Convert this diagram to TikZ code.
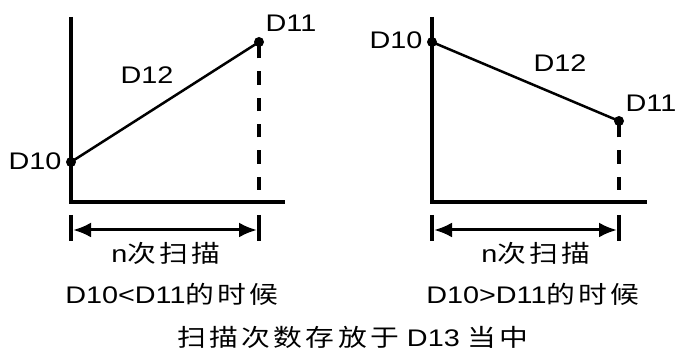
\documentclass[tikz,border=0pt]{standalone}
\usepackage{fontspec}
\setmainfont{Liberation Sans}[FakeStretch=1.2]
\newfontfamily\cjk{Noto Sans CJK SC}[FakeStretch=1.2,LetterSpace=14]
\usetikzlibrary{arrows.meta}
\begin{document}
\begin{tikzpicture}[x=1pt,y=-1pt,
  axis/.style={line width=3.8pt},
  graphline/.style={line width=2.5pt},
  dashline/.style={line width=3.5pt,dash pattern=on 13.3pt off 13pt},
  dimline/.style={line width=3pt,{Latex[length=18pt,width=15pt]}-{Latex[length=18pt,width=15pt]}},
  tickline/.style={line width=3.5pt},
  dot/.style={circle,fill=black,inner sep=0pt,minimum size=10pt},
  lbl/.style={anchor=base,inner sep=0pt,font=\fontsize{24}{27}\selectfont}]
\useasboundingbox (0,0) rectangle (677,352);
% ---------- left panel ----------
\coordinate (LyT) at (71,17);
\coordinate (LO) at (71,202);
\coordinate (LxE) at (285,202);
\coordinate (LdB) at (259,190);
\coordinate (LtA1) at (71,215);
\coordinate (LtA2) at (71,241);
\coordinate (LtB1) at (259,215);
\coordinate (LtB2) at (259,241);
\coordinate (LaA) at (73,230);
\coordinate (LaB) at (257,230);
\draw[axis] (LyT) -- (LO) -- (LxE);
\node[dot] (Lp0) at (71,162) {};
\node[dot] (Lp1) at (259,42) {};
\draw[graphline] (Lp0.center) -- (Lp1.center);
\draw[dashline] (LdB) -- (Lp1.center);
\draw[tickline] (LtA1) -- (LtA2);
\draw[tickline] (LtB1) -- (LtB2);
\draw[dimline] (LaA) -- (LaB);
\node[lbl] (LD10) at (35,170) {D10};
\node[lbl] (LD11) at (291,32) {D11};
\node[lbl] (LD12) at (147,84) {D12};
\node[lbl] (Ln) at (166,263) {n{\cjk 次扫描}};
\node[lbl] (Lcap) at (172,304) {D10<D11{\cjk 的时候}};
% ---------- right panel ----------
\coordinate (RyT) at (432,17);
\coordinate (RO) at (432,202);
\coordinate (RxE) at (647,202);
\coordinate (RdB) at (619,190);
\coordinate (RtA1) at (432,215);
\coordinate (RtA2) at (432,241);
\coordinate (RtB1) at (619,215);
\coordinate (RtB2) at (619,241);
\coordinate (RaA) at (434,230);
\coordinate (RaB) at (617,230);
\draw[axis] (RyT) -- (RO) -- (RxE);
\node[dot] (Rp0) at (432,42) {};
\node[dot] (Rp1) at (619,121) {};
\draw[graphline] (Rp0.center) -- (Rp1.center);
\draw[dashline] (RdB) -- (Rp1.center);
\draw[tickline] (RtA1) -- (RtA2);
\draw[tickline] (RtB1) -- (RtB2);
\draw[dimline] (RaA) -- (RaB);
\node[lbl] (RD10) at (396,49) {D10};
\node[lbl] (RD11) at (651,112) {D11};
\node[lbl] (RD12) at (560,72) {D12};
\node[lbl] (Rn) at (536,263) {n{\cjk 次扫描}};
\node[lbl] (Rcap) at (533,304) {D10>D11{\cjk 的时候}};
% ---------- bottom ----------
\node[lbl] (bottom) at (353,347) {{\cjk 扫描次数存放于} D13 {\cjk 当中}};
\end{tikzpicture}
\end{document}
